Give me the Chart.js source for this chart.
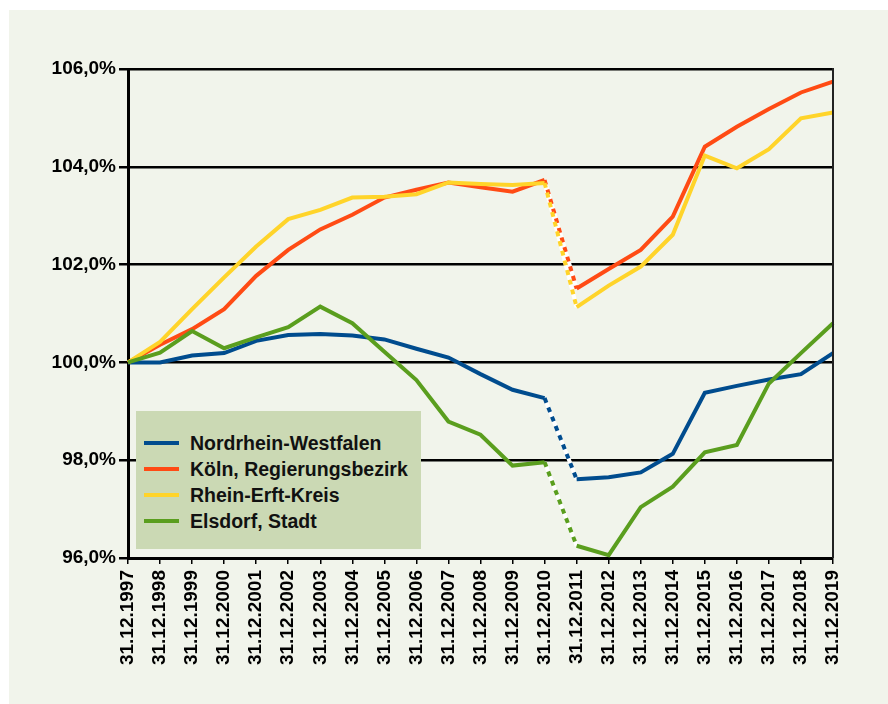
<!DOCTYPE html>
<html>
<head>
<meta charset="utf-8">
<script src="https://cdn.jsdelivr.net/npm/chart.js@4.4.0/dist/chart.umd.min.js"></script>
<style>
  html, body { margin: 0; padding: 0; background: #ffffff; }
  #wrap { position: relative; width: 888px; height: 704px; }
  #c { position: absolute; left: 0; top: 0; }
  #legend { position: absolute; left: 136px; top: 411px; width: 285px; height: 138px;
            background: #cbd9b4; font-family: "Liberation Sans", Arial, sans-serif;
            font-weight: bold; font-size: 19.5px; color: #111; }
  .item { position: absolute; left: 0; height: 26px; line-height: 26px; white-space: nowrap; }
  .sw { position: absolute; left: 8px; top: 11px; width: 35px; height: 4px; }
  .lb { position: absolute; left: 54px; top: 0; }
</style>
</head>
<body>
<div id="wrap">
  <canvas id="c" width="888" height="704"></canvas>
  <div id="legend"></div>
</div>
<script>
const categories = ["31.12.1997","31.12.1998","31.12.1999","31.12.2000","31.12.2001","31.12.2002","31.12.2003","31.12.2004","31.12.2005","31.12.2006","31.12.2007","31.12.2008","31.12.2009","31.12.2010","31.12.2011","31.12.2012","31.12.2013","31.12.2014","31.12.2015","31.12.2016","31.12.2017","31.12.2018","31.12.2019"];

const seriesNames = ["Nordrhein-Westfalen", "Köln, Regierungsbezirk", "Rhein-Erft-Kreis", "Elsdorf, Stadt"];
const seriesColors = ["#004c8e", "#ff4b14", "#ffd42a", "#5a9e1e"];

const nrw      = [100.0,100.0,100.14,100.19,100.44,100.56,100.58,100.55,100.47,100.28,100.10,99.76,99.44,99.27,97.61,97.65,97.75,98.13,99.38,99.52,99.65,99.76,100.19];
const koeln    = [100.0,100.36,100.68,101.09,101.77,102.30,102.72,103.02,103.37,103.53,103.68,103.58,103.49,103.73,101.51,101.91,102.30,102.98,104.41,104.82,105.18,105.52,105.74];
const rheinErft= [100.0,100.42,101.09,101.74,102.37,102.93,103.12,103.37,103.39,103.44,103.68,103.65,103.63,103.67,101.13,101.57,101.96,102.61,104.23,103.97,104.36,104.99,105.11];
const elsdorf  = [100.0,100.20,100.64,100.29,100.51,100.72,101.14,100.80,100.22,99.64,98.79,98.52,97.89,97.96,96.25,96.06,97.04,97.46,98.16,98.31,99.57,100.19,100.80];

const yTicks = [96, 98, 100, 102, 104, 106];
const breakIndex = 13; // segment 2010 -> 2011 drawn dashed

const seriesData = [nrw, koeln, rheinErft, elsdorf];

function underlay(arr) {
  return arr.map((v, i) => (i === breakIndex || i === breakIndex + 1) ? v : null);
}

const datasets = [];
seriesData.forEach((arr, k) => {
  datasets.push({
    label: seriesNames[k],
    data: arr,
    borderColor: seriesColors[k],
    backgroundColor: seriesColors[k],
    borderWidth: 4,
    pointRadius: 0,
    tension: 0,
    fill: false,
    order: 4 - k,
    segment: {
      borderDash: ctx => ctx.p0DataIndex === breakIndex ? [5, 5] : undefined
    }
  });
});
seriesData.forEach((arr, k) => {
  datasets.push({
    label: "_white" + k,
    data: underlay(arr),
    borderColor: "#ffffff",
    borderWidth: 4,
    pointRadius: 0,
    tension: 0,
    fill: false,
    spanGaps: false,
    order: 20 - k
  });
});

const bgPlugin = {
  id: 'bg',
  beforeDraw(chart) {
    const ctx = chart.ctx;
    ctx.save();
    ctx.fillStyle = '#ffffff';
    ctx.fillRect(0, 0, chart.width, chart.height);
    ctx.fillStyle = '#f1f4eb';
    ctx.fillRect(9, 10, chart.width - 9, chart.height - 10);
    ctx.restore();
  },
  afterDatasetsDraw(chart) {
    const a = chart.chartArea, ctx = chart.ctx;
    ctx.save();
    ctx.strokeStyle = '#222222';
    ctx.lineWidth = 2;
    ctx.beginPath();
    ctx.moveTo(a.right, a.top - 1);
    ctx.lineTo(a.right, a.bottom);
    ctx.stroke();
    ctx.restore();
  }
};

const tickFont = { family: '"Liberation Sans", Arial, sans-serif', size: 19, weight: 'bold' };

new Chart(document.getElementById('c'), {
  type: 'line',
  data: { labels: categories, datasets },
  options: {
    responsive: false,
    animation: false,
    devicePixelRatio: 1,
    layout: { padding: { left: 0, right: 55, top: 69, bottom: 21 } },
    plugins: { legend: { display: false }, tooltip: { enabled: false } },
    scales: {
      x: {
        offset: false,
        grid: { display: true, drawOnChartArea: false, drawTicks: true, tickLength: 6, color: '#000', lineWidth: 1.5, offset: false },
        border: { display: true, color: '#000', width: 3 },
        ticks: { color: '#000', font: tickFont, minRotation: 90, maxRotation: 90, padding: 6, autoSkip: false },
        afterFit(scale) { scale.height = 125; }
      },
      y: {
        min: 96, max: 106,
        afterBuildTicks(scale) { scale.ticks = yTicks.map(v => ({ value: v })); },
        grid: { color: '#000', lineWidth: 2.5, drawTicks: true, tickLength: 9 },
        border: { display: true, color: '#000', width: 3 },
        ticks: { color: '#000', font: tickFont, padding: 3,
                 callback: v => v.toFixed(1).replace('.', ',') + '%' },
        afterFit(scale) { scale.width = 128; }
      }
    }
  },
  plugins: [bgPlugin]
});

const legend = document.getElementById('legend');
seriesNames.forEach((name, k) => {
  const it = document.createElement('div');
  it.className = 'item';
  it.style.top = (19 + k * 26) + 'px';
  it.innerHTML = '<span class="sw" style="background:' + seriesColors[k] + '"></span><span class="lb"></span>';
  it.querySelector('.lb').textContent = name;
  legend.appendChild(it);
});
</script>
</body>
</html>
